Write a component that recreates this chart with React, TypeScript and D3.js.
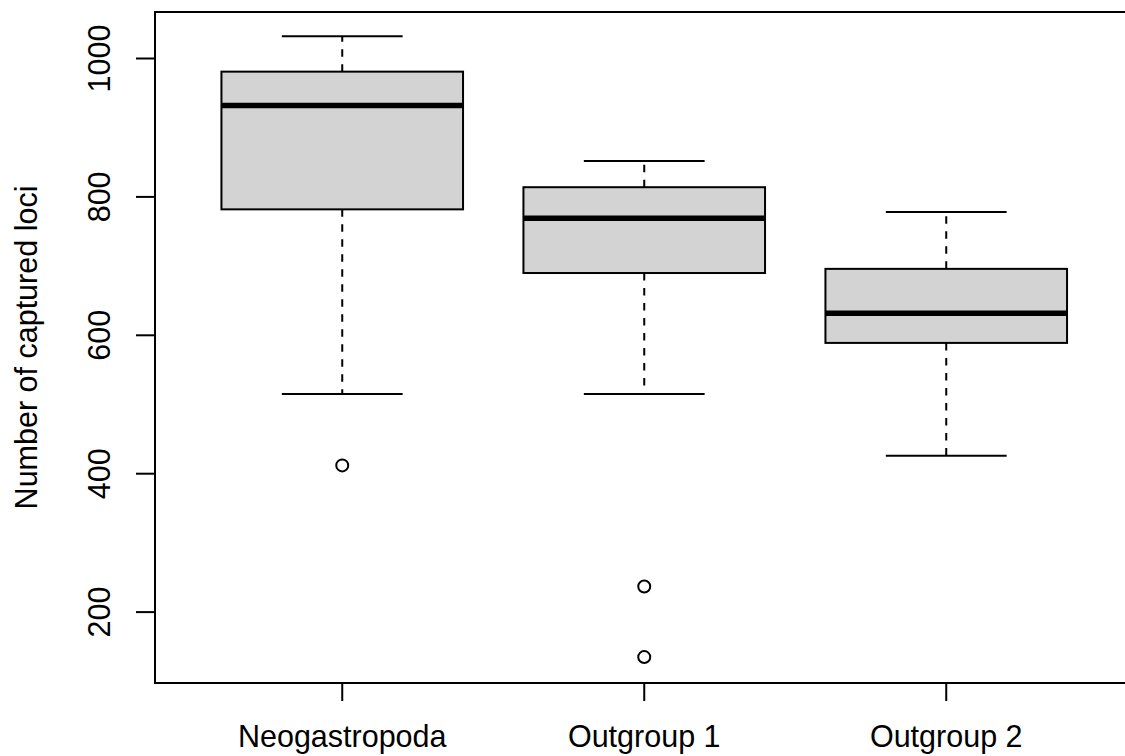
import React from "react";
import * as d3 from "d3";

// Box-plot statistics per group
const groups = ["Neogastropoda", "Outgroup 1", "Outgroup 2"];
const whiskerLow = [515, 515, 426];
const lowerQuartile = [782, 690, 589];
const medians = [932, 769, 632];
const upperQuartile = [981, 814, 696];
const whiskerHigh = [1032, 852, 778];
const outliers: number[][] = [[412], [237, 135], []];
const yTicks = [200, 400, 600, 800, 1000];

const W = 1125;
const H = 756;
const FONT = "'Liberation Sans', Arial, Helvetica, sans-serif";
const FS = 30.5;

export default function App() {
  const left = 155;
  const top = 12;
  const bottom = 683;
  // R-style 4% extension around [0.5, n + 0.5]
  const x = d3.scaleLinear().domain([0.38, 3.62]).range([left, left + 3.24 * 302]);
  const y = d3.scaleLinear().domain([1000, 200]).range([58.5, 612.1]);
  const yMin = y.invert(bottom);
  const yMax = y.invert(top);
  const halfBox = x(1.4) - x(1);
  const halfCap = halfBox / 2;

  return (
    <svg
      width={W}
      height={H}
      style={{ position: "absolute", left: 0, top: 0, background: "#fff" }}
      fontFamily={FONT}
    >
      {groups.map((g, i) => {
        const cx = x(i + 1);
        return (
          <g key={g}>
            <line
              x1={cx} x2={cx} y1={y(upperQuartile[i])} y2={y(whiskerHigh[i])}
              stroke="#000" strokeWidth={2} strokeDasharray="7.5 7.5"
            />
            <line
              x1={cx} x2={cx} y1={y(lowerQuartile[i])} y2={y(whiskerLow[i])}
              stroke="#000" strokeWidth={2} strokeDasharray="7.5 7.5"
            />
            <line
              x1={cx - halfCap} x2={cx + halfCap} y1={y(whiskerHigh[i])} y2={y(whiskerHigh[i])}
              stroke="#000" strokeWidth={2}
            />
            <line
              x1={cx - halfCap} x2={cx + halfCap} y1={y(whiskerLow[i])} y2={y(whiskerLow[i])}
              stroke="#000" strokeWidth={2}
            />
            <rect
              x={cx - halfBox}
              y={y(upperQuartile[i])}
              width={2 * halfBox}
              height={y(lowerQuartile[i]) - y(upperQuartile[i])}
              fill="#D3D3D3"
              stroke="#000"
              strokeWidth={2}
            />
            <line
              x1={cx - halfBox} x2={cx + halfBox} y1={y(medians[i])} y2={y(medians[i])}
              stroke="#000" strokeWidth={5.5}
            />
            {outliers[i].map((v, j) => (
              <circle key={j} cx={cx} cy={y(v)} r={6} fill="none" stroke="#000" strokeWidth={2} />
            ))}
          </g>
        );
      })}

      {/* plot frame */}
      <rect
        x={left}
        y={top}
        width={x(3.62) - left}
        height={bottom - top}
        fill="none"
        stroke="#000"
        strokeWidth={2}
      />

      {/* y axis */}
      {yTicks.filter((t) => t >= yMin && t <= yMax).map((t) => (
        <g key={t}>
          <line x1={left - 19} x2={left} y1={y(t)} y2={y(t)} stroke="#000" strokeWidth={2} />
          <text
            transform={`translate(110,${y(t)}) rotate(-90)`}
            textAnchor="middle"
            fontSize={FS}
            fill="#000"
          >
            {t}
          </text>
        </g>
      ))}

      {/* x axis */}
      {groups.map((g, i) => (
        <g key={g}>
          <line x1={x(i + 1)} x2={x(i + 1)} y1={bottom} y2={bottom + 18} stroke="#000" strokeWidth={2} />
          <text x={x(i + 1)} y={747} textAnchor="middle" fontSize={FS} fill="#000">
            {g}
          </text>
        </g>
      ))}

      <text
        transform={`translate(36.5,${(top + bottom) / 2}) rotate(-90)`}
        textAnchor="middle"
        fontSize={FS}
        fill="#000"
      >
        Number of captured loci
      </text>
    </svg>
  );
}
